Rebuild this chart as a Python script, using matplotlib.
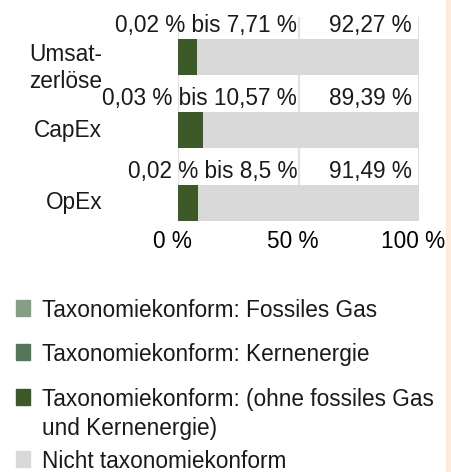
import matplotlib.pyplot as plt
from matplotlib.patches import Rectangle
from matplotlib.transforms import ScaledTranslation

plt.rcParams['font.family'] = ['Liberation Sans', 'DejaVu Sans']

# data
categories = ["Umsat-\nzerlöse", "CapEx", "OpEx"]
fossil_gas = [0.0, 0.0, 0.0]
nuclear = [0.0, 0.0, 0.0]
aligned_low = [0.02, 0.03, 0.02]
aligned_high = [7.71, 10.57, 8.5]
not_aligned = [92.27, 89.39, 91.49]
x_ticks = [0, 50, 100]
x_labels = ["0 %", "50 %", "100 %"]

legend_labels = ["Taxonomiekonform: Fossiles Gas",
                 "Taxonomiekonform: Kernenergie",
                 "Taxonomiekonform: (ohne fossiles Gas\nund Kernenergie)",
                 "Nicht taxonomiekonform"]
colors = ["#849F84", "#52775A", "#3B5A27", "#D9D9D9"]

FS = 16.3
W, H = 451, 472
fig = plt.figure(figsize=(W / 100, H / 100), dpi=100)

def fx(px):
    return px / W

def fy(py):
    return 1 - py / H

ax = fig.add_axes([fx(178), fy(221), fx(241), 204 / H])

ypos = [2, 1, 0]
bar_h = 0.493
gas_end = [g + n for g, n in zip(fossil_gas, nuclear)]
ax.barh(ypos, fossil_gas, height=bar_h, color=colors[0])
ax.barh(ypos, nuclear, left=fossil_gas, height=bar_h, color=colors[1])
ax.barh(ypos, aligned_high, left=gas_end, height=bar_h, color=colors[2])
ax.barh(ypos, not_aligned, left=[a + b for a, b in zip(gas_end, aligned_high)],
        height=bar_h, color=colors[3])

ax.set_xlim(0, 100)
ax.set_ylim(-0.2466, 2.548)
ax.set_xticks(x_ticks)
ax.set_xticklabels(x_labels, fontsize=FS)
ax.set_yticks([])
ax.tick_params(axis='x', length=0, pad=6.5)
for lbl in ax.get_xticklabels():
    lbl.set_transform(lbl.get_transform() + ScaledTranslation(-6 / 100, 0, fig.dpi_scale_trans))
ax.grid(axis='x', color='#E2E2E2', lw=1.6)
ax.set_axisbelow(True)
for s in ax.spines.values():
    s.set_visible(False)

fmt = lambda v: f"{v:g}".replace('.', ',') + " %"
label_off = 7 / 73
cat_shift = [-0.15, 0.0, 0.0]
for y, cat, lo, hi, na, sh in zip(ypos, categories, aligned_low, aligned_high, not_aligned, cat_shift):
    ax.text(49.4, y + bar_h / 2 + label_off, f"{fmt(lo)} bis {fmt(hi)}",
            ha='right', va='baseline', fontsize=FS, color='#1a1a1a')
    ax.text(96.9, y + bar_h / 2 + label_off, fmt(na),
            ha='right', va='baseline', fontsize=FS, color='#1a1a1a')
    ax.text(-0.315, y + sh, cat, transform=ax.get_yaxis_transform(),
            ha='right', va='center', fontsize=FS, linespacing=1.2, color='#1a1a1a')

# legend
sq_bottom = [316, 360, 405, 467]
for yb, lab, c in zip(sq_bottom, legend_labels, colors):
    fig.patches.append(Rectangle((fx(16), fy(yb)), fx(14), 16 / H,
                                 transform=fig.transFigure, color=c))
    fig.text(fx(42), fy(yb - 17), lab, ha='left', va='top', fontsize=FS,
             linespacing=1.33, color='#1a1a1a')

# side stripe
fig.patches.append(Rectangle((fx(446), 0), fx(5), 1, transform=fig.transFigure,
                             color='#FCEADB'))

fig.savefig("out.png", dpi=100)
